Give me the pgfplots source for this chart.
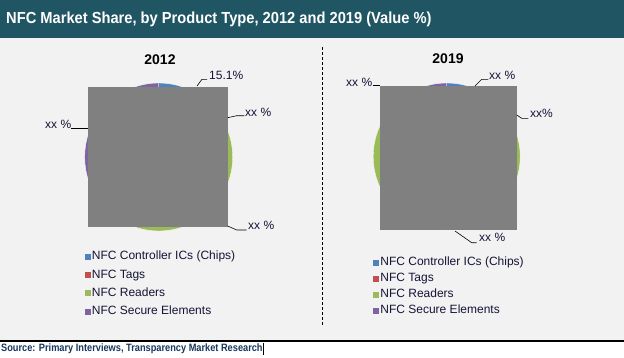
\documentclass[border=0pt]{standalone}
\usepackage{fontspec}
\setmainfont{Liberation Sans}
\newfontfamily\narrowfont[FakeStretch=0.917]{Liberation Sans}
\newfontfamily\srcfont[FakeStretch=0.865]{Liberation Sans}
\usepackage{pgfplots}
\pgfplotsset{compat=1.18}
\usepgfplotslibrary{polar}
\definecolor{nfcblue}{RGB}{79,129,189}
\definecolor{nfcred}{RGB}{192,80,77}
\definecolor{nfcgreen}{RGB}{155,187,89}
\definecolor{nfcpurple}{RGB}{128,100,162}
\definecolor{titlebar}{RGB}{32,86,100}
\definecolor{panelbg}{RGB}{242,242,242}
\definecolor{txt}{RGB}{20,20,55}
\definecolor{srctxt}{RGB}{23,55,94}
\definecolor{mask}{RGB}{128,128,128}
\pgfplotsset{
  piestyle/.style={
    scale only axis, hide axis, clip=false,
    ymin=0, ymax=1,
    legend cell align=left,
    legend image code/.code={\fill[##1,draw=none] (0bp,-3bp) rectangle (6bp,3bp);},
  },
}
\begin{document}
\begin{tikzpicture}[x=1bp,y=1bp]
\useasboundingbox (0,0) rectangle (624,357);
\fill[white] (0,0) rectangle (624,357);
\fill[panelbg] (0,16) rectangle (624,319.3);
\fill[titlebar] (0,319.3) rectangle (624,357);
\draw[black, line width=1.2bp] (0,16) -- (624,16);
\node[anchor=west, inner sep=0, text=white, font=\narrowfont\bfseries\fontsize{16bp}{19bp}\selectfont] at (6,338) {NFC Market Share, by Product Type, 2012 and 2019 (Value \%)};
\node[anchor=west, inner sep=0, text=srctxt, font=\srcfont\bfseries\fontsize{10.67bp}{12bp}\selectfont] at (1,8.7) {Source: Primary Interviews, Transparency Market Research};
\draw[line width=1.3bp] (263.5,2) -- (263.5,14);
\draw[dash pattern=on 3bp off 2bp, line width=0.8bp] (322,310) -- (322,31);

% ---------- 2012 ----------
\begin{polaraxis}[piestyle, at={(158.7bp,200bp)}, anchor=center, width=148bp, height=148bp,
  legend style={at={(axis description cs:0.0,-0.127)}, anchor=north west, draw=none, fill=none,
    inner sep=0pt, row sep=4.2bp, font=\fontsize{12bp}{14bp}\selectfont, text=txt,
    nodes={inner sep=1bp, text height=9bp, text depth=3bp}}]
% shares (%): Controller ICs 15.1, Tags 3.2, Readers 44.4, Secure Elements 37.3
\addplot[fill=nfcblue, draw=white, line width=0.3bp] coordinates {(0,0) (90,1) (85,1) (80,1) (75,1) (70,1) (65,1) (60,1) (55,1) (50,1) (45,1) (40,1) (35.6,1) (0,0)};
\addlegendentry{NFC Controller ICs (Chips)}
\addplot[fill=nfcred, draw=white, line width=0.3bp] coordinates {(0,0) (35.6,1) (30,1) (24.1,1) (0,0)};
\addlegendentry{NFC Tags}
\addplot[fill=nfcgreen, draw=white, line width=0.3bp] coordinates {(0,0) (24.1,1) (20,1) (15,1) (10,1) (5,1) (0,1) (-5,1) (-10,1) (-15,1) (-20,1) (-25,1) (-30,1) (-35,1) (-40,1) (-45,1) (-50,1) (-55,1) (-60,1) (-65,1) (-70,1) (-75,1) (-80,1) (-85,1) (-90,1) (-95,1) (-100,1) (-105,1) (-110,1) (-115,1) (-120,1) (-125,1) (-130,1) (-135,1) (-135.7,1) (0,0)};
\addlegendentry{NFC Readers}
\addplot[fill=nfcpurple, draw=white, line width=0.3bp] coordinates {(0,0) (224.3,1) (220,1) (215,1) (210,1) (205,1) (200,1) (195,1) (190,1) (185,1) (180,1) (175,1) (170,1) (165,1) (160,1) (155,1) (150,1) (145,1) (140,1) (135,1) (130,1) (125,1) (120,1) (115,1) (110,1) (105,1) (100,1) (95,1) (90,1) (0,0)};
\addlegendentry{NFC Secure Elements}
\end{polaraxis}

% ---------- 2019 ----------
\begin{polaraxis}[piestyle, at={(446.7bp,200.5bp)}, anchor=center, width=147bp, height=147bp,
  legend style={at={(axis description cs:0.0,-0.174)}, anchor=north west, draw=none, fill=none,
    inner sep=0pt, row sep=2bp, font=\fontsize{12bp}{14bp}\selectfont, text=txt,
    nodes={inner sep=1bp, text height=9bp, text depth=3bp}}]
% shares (%): Controller ICs 7.2, Tags 12.2, Readers 62.0, Secure Elements 18.6
\addplot[fill=nfcblue, draw=white, line width=0.3bp] coordinates {(0,0) (90,1) (85,1) (80,1) (75,1) (70,1) (65,1) (64,1) (0,0)};
\addlegendentry{NFC Controller ICs (Chips)}
\addplot[fill=nfcred, draw=white, line width=0.3bp] coordinates {(0,0) (64,1) (60,1) (55,1) (50,1) (45,1) (40,1) (35,1) (30,1) (25,1) (20.1,1) (0,0)};
\addlegendentry{NFC Tags}
\addplot[fill=nfcgreen, draw=white, line width=0.3bp] coordinates {(0,0) (20.1,1) (15,1) (10,1) (5,1) (0,1) (-5,1) (-10,1) (-15,1) (-20,1) (-25,1) (-30,1) (-35,1) (-40,1) (-45,1) (-50,1) (-55,1) (-60,1) (-65,1) (-70,1) (-75,1) (-80,1) (-85,1) (-90,1) (-95,1) (-100,1) (-105,1) (-110,1) (-115,1) (-120,1) (-125,1) (-130,1) (-135,1) (-140,1) (-145,1) (-150,1) (-155,1) (-160,1) (-165,1) (-170,1) (-175,1) (-180,1) (-185,1) (-190,1) (-195,1) (-200,1) (-203.1,1) (0,0)};
\addlegendentry{NFC Readers}
\addplot[fill=nfcpurple, draw=white, line width=0.3bp] coordinates {(0,0) (156.9,1) (155,1) (150,1) (145,1) (140,1) (135,1) (130,1) (125,1) (120,1) (115,1) (110,1) (105,1) (100,1) (95,1) (90,1) (0,0)};
\addlegendentry{NFC Secure Elements}
\end{polaraxis}

% grey masks covering the pies (as in the reference)
\fill[mask] (88,130) rectangle (228,270);
\fill[mask] (380,127) rectangle (517,271);

% year titles
\node[font=\bfseries\fontsize{14bp}{16bp}\selectfont] at (160,297) {2012};
\node[font=\bfseries\fontsize{14bp}{16bp}\selectfont] at (448,298) {2019};

% data labels and leader lines
\begin{scope}[every node/.style={anchor=west, inner sep=0, text=txt, font=\fontsize{12bp}{14bp}\selectfont}]
\node at (209,282) {15.1\%};
\node at (245,245) {xx \%};
\node at (248,131.3) {xx \%};
\node at (45,233) {xx \%};
\node at (489,282) {xx \%};
\node at (346,274.7) {xx \%};
\node at (530,243.7) {xx\%};
\node at (479,119.5) {xx \%};
\end{scope}
\begin{scope}[line width=0.6bp]
\draw (197,271) -- (202,277.7) -- (207,277.7);
\draw (227.7,239.3) -- (236.7,241.3) -- (244.3,241.3);
\draw (227.7,131) -- (236.7,127) -- (246.7,127);
\draw (71,228.7) -- (88,228.7);
\draw (475,271) -- (481.7,277.7) -- (488.3,277.7);
\draw (373.3,271.3) -- (380,271.3);
\draw (516.7,242) -- (521.7,238.7) -- (528.3,238.7);
\draw (455,126) -- (471.7,114.3) -- (476.7,114.3);
\end{scope}
\end{tikzpicture}
\end{document}
